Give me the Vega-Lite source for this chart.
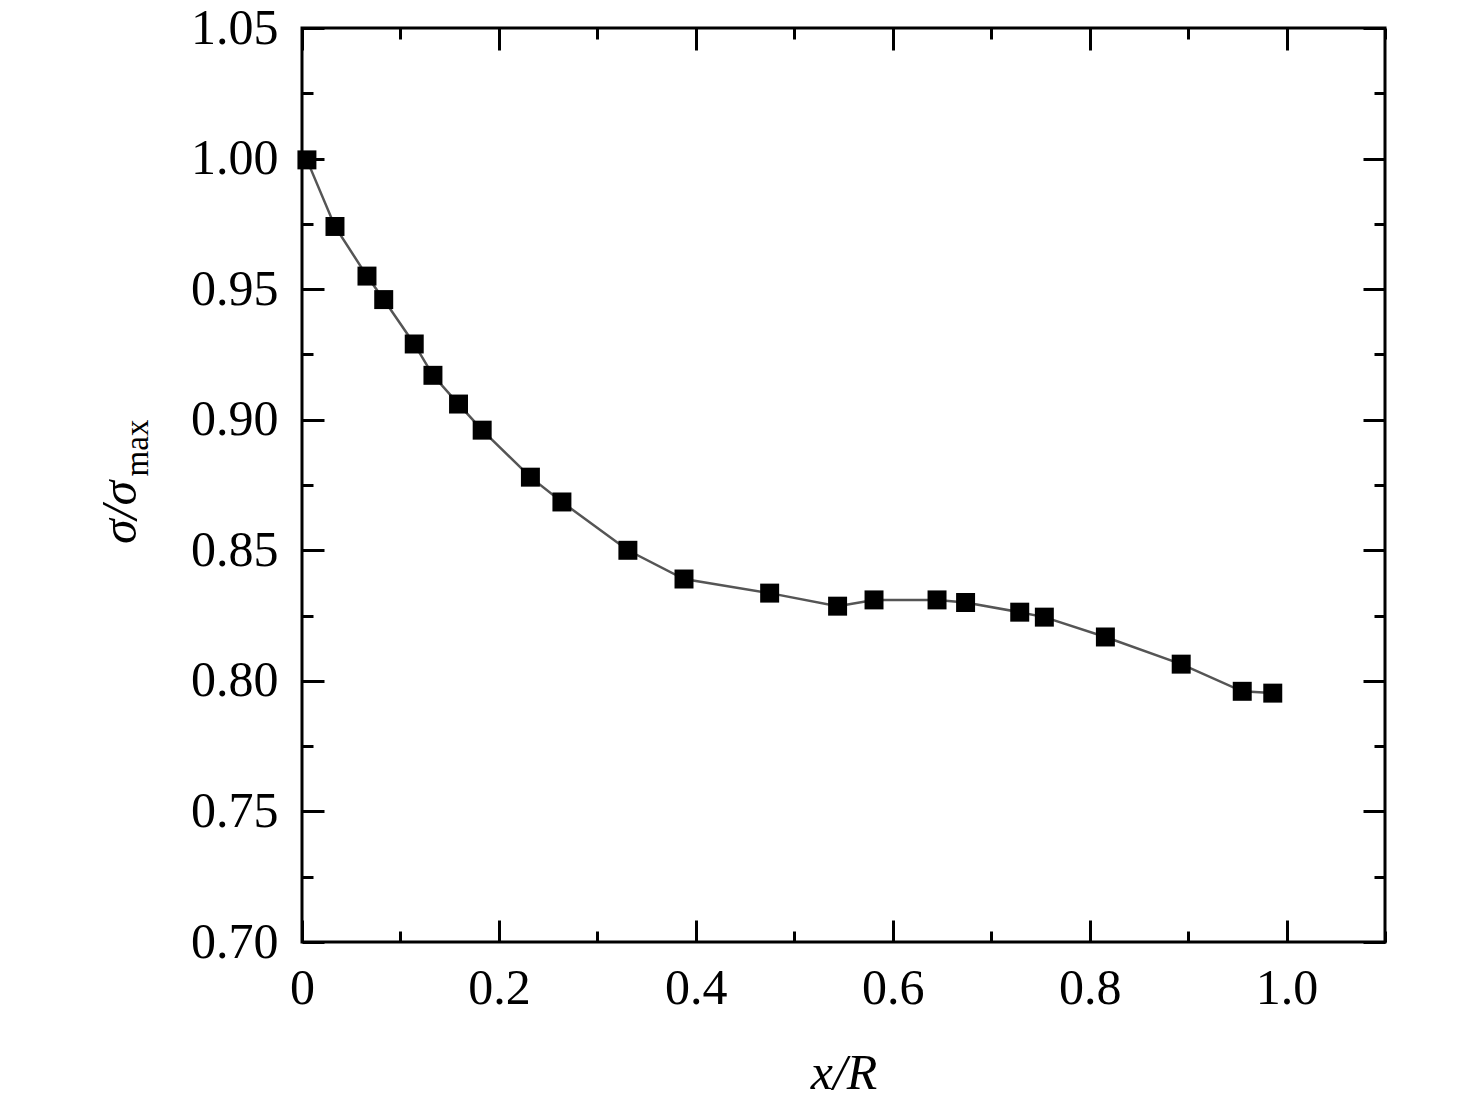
{
  "$schema": "https://vega.github.io/schema/vega-lite/v6.json",
  "autosize": "none",
  "padding": {"left": 302, "top": 28, "right": 91, "bottom": 157},
  "width": 1083,
  "height": 914,
  "background": "white",
  "config": {
    "view": {"stroke": "black", "strokeWidth": 3},
    "axis": {
      "domain": false,
      "grid": false,
      "labelFont": "Liberation Serif",
      "labelFontSize": 50,
      "labelColor": "black",
      "tickColor": "black",
      "tickWidth": 3,
      "labelFlush": false,
      "labelOverlap": false,
      "titleFont": "Liberation Serif",
      "titleFontSize": 50,
      "titleFontStyle": "italic",
      "titleFontWeight": "normal",
      "titleColor": "black"
    }
  },
  "data": {
    "values": [
      {"xr": 0.005, "s": 0.9995},
      {"xr": 0.0335, "s": 0.974},
      {"xr": 0.066, "s": 0.955},
      {"xr": 0.083, "s": 0.946},
      {"xr": 0.114, "s": 0.929},
      {"xr": 0.133, "s": 0.917},
      {"xr": 0.159, "s": 0.906},
      {"xr": 0.183, "s": 0.896},
      {"xr": 0.232, "s": 0.878},
      {"xr": 0.264, "s": 0.8685},
      {"xr": 0.331, "s": 0.850},
      {"xr": 0.388, "s": 0.839},
      {"xr": 0.475, "s": 0.8336},
      {"xr": 0.544, "s": 0.8286},
      {"xr": 0.581, "s": 0.831},
      {"xr": 0.645, "s": 0.831},
      {"xr": 0.674, "s": 0.830},
      {"xr": 0.729, "s": 0.8263},
      {"xr": 0.754, "s": 0.8244},
      {"xr": 0.816, "s": 0.8168},
      {"xr": 0.893, "s": 0.8064},
      {"xr": 0.955, "s": 0.796},
      {"xr": 0.986, "s": 0.7953}
    ]
  },
  "layer": [
    {
      "mark": {"type": "line", "color": "#555555", "strokeWidth": 2.5},
      "encoding": {
        "x": {
          "field": "xr", "type": "quantitative",
          "scale": {"domain": [0, 1.1], "nice": false, "zero": false},
          "axis": {
            "orient": "bottom",
            "title": "x/R",
            "titleBaseline": "alphabetic",
            "titleY": 146,
            "values": [0, 0.1, 0.2, 0.3, 0.4, 0.5, 0.6, 0.7, 0.8, 0.9, 1.0, 1.1],
            "labelExpr": "abs(datum.value*5 - round(datum.value*5)) < 0.001 ? (datum.value == 0 ? '0' : format(datum.value, '.1f')) : ''",
            "tickSize": {"condition": {"test": "abs(datum.value*5 - round(datum.value*5)) < 0.001", "value": -22}, "value": -11},
            "labelPadding": {"condition": {"test": "abs(datum.value*5 - round(datum.value*5)) < 0.001", "value": 43}, "value": 32}
          }
        },
        "y": {
          "field": "s", "type": "quantitative",
          "scale": {"domain": [0.7, 1.05], "nice": false, "zero": false},
          "axis": {
            "orient": "left",
            "title": "σ/σ",
            "titleAngle": -90,
            "titleAlign": "center",
            "titleBaseline": "alphabetic",
            "titleX": -167,
            "titleY": 484,
            "values": [0.7, 0.725, 0.75, 0.775, 0.8, 0.825, 0.85, 0.875, 0.9, 0.925, 0.95, 0.975, 1.0, 1.025, 1.05],
            "labelExpr": "abs(datum.value*20 - round(datum.value*20)) < 0.001 ? format(datum.value, '.2f') : ''",
            "tickSize": {"condition": {"test": "abs(datum.value*20 - round(datum.value*20)) < 0.001", "value": -22}, "value": -11},
            "labelPadding": {"condition": {"test": "abs(datum.value*20 - round(datum.value*20)) < 0.001", "value": 46}, "value": 35}
          }
        }
      }
    },
    {
      "mark": {"type": "point", "shape": "square", "filled": true, "color": "black", "opacity": 1, "size": 360},
      "encoding": {
        "x": {
          "field": "xr", "type": "quantitative",
          "scale": {"domain": [0, 1.1], "nice": false, "zero": false},
          "axis": {
            "orient": "top",
            "title": null,
            "labels": false,
            "values": [0, 0.1, 0.2, 0.3, 0.4, 0.5, 0.6, 0.7, 0.8, 0.9, 1.0, 1.1],
            "tickSize": {"condition": {"test": "abs(datum.value*5 - round(datum.value*5)) < 0.001", "value": -22}, "value": -11}
          }
        },
        "y": {
          "field": "s", "type": "quantitative",
          "scale": {"domain": [0.7, 1.05], "nice": false, "zero": false},
          "axis": {
            "orient": "right",
            "title": null,
            "labels": false,
            "values": [0.7, 0.725, 0.75, 0.775, 0.8, 0.825, 0.85, 0.875, 0.9, 0.925, 0.95, 0.975, 1.0, 1.025, 1.05],
            "tickSize": {"condition": {"test": "abs(datum.value*20 - round(datum.value*20)) < 0.001", "value": -22}, "value": -11}
          }
        }
      }
    },
    {
      "data": {"values": [{"t": "max"}]},
      "mark": {
        "type": "text",
        "font": "Liberation Serif",
        "fontSize": 33,
        "color": "black",
        "angle": 270,
        "align": "center",
        "baseline": "alphabetic",
        "x": -154,
        "y": 420
      },
      "encoding": {"text": {"field": "t"}}
    }
  ],
  "resolve": {"axis": {"x": "independent", "y": "independent"}}
}
